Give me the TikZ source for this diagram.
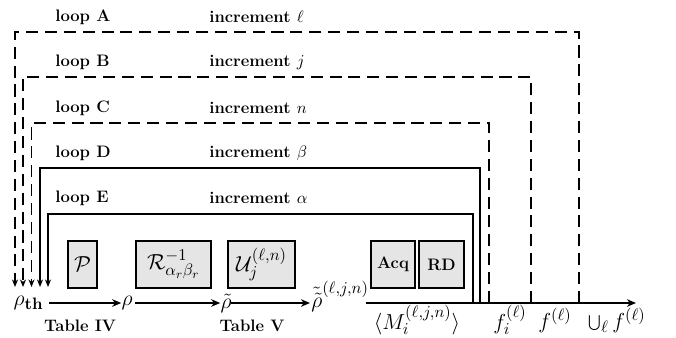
\documentclass[tikz,border=0pt]{standalone}
\usetikzlibrary{arrows.meta}
\begin{document}
\begin{tikzpicture}[x=0.662pt,y=-0.662pt,
  bf/.style={font=\fontsize{11}{13}\selectfont\bfseries},
  mf/.style={font=\fontsize{15.5}{18}\selectfont},
  lbl/.style={anchor=west,inner sep=0pt,bf},
  loopdash/.style={line width=1.2pt,dash pattern=on 8pt off 4.5pt,-{Stealth[length=5pt,width=4pt]}},
  loopsolid/.style={line width=1.2pt,-{Stealth[length=5pt,width=4pt]}},
  box/.style={draw,line width=1.2pt,fill=black!10,inner sep=0pt},
  axis/.style={line width=1pt,-{Stealth[length=6pt,width=5pt]}},
  mathlbl/.style={inner sep=0pt,mf},
  tbl/.style={inner sep=0pt,bf}]
\useasboundingbox (0,0) rectangle (676,338);
% labels
\node[lbl] (la) at (55,17) {loop A};
\node[lbl] (ia) at (209,17) {increment \mbox{\mdseries$\ell$}};
\node[lbl] (lb) at (55,62) {loop B};
\node[lbl] (ib) at (209,62) {increment \mbox{\mdseries$j$}};
\node[lbl] (lc) at (55,108) {loop C};
\node[lbl] (ic) at (209,108) {increment \mbox{\mdseries$n$}};
\node[lbl] (ld) at (55,153) {loop D};
\node[lbl] (id) at (209,153) {increment \mbox{\mdseries$\beta$}};
\node[lbl] (le) at (55,198) {loop E};
\node[lbl] (ie) at (209,198) {increment \mbox{\mdseries$\alpha$}};
% boxes
\node[box,minimum width=19.2pt,minimum height=31.1pt,mf] (P) at (82.5,264.5) {$\mathcal{P}$};
\node[box,minimum width=49.6pt,minimum height=31.1pt,mf] (R) at (173.5,264.5) {$\mathcal{R}^{-1}_{\alpha_r\beta_r}$};
\node[box,minimum width=44.4pt,minimum height=31.1pt,mf] (U) at (261.5,264.5) {$\mathcal{U}_j^{(\ell,n)}$};
\node[box,minimum width=29.1pt,minimum height=31.1pt,bf] (Acq) at (393,264.5) {Acq};
\node[box,minimum width=29.8pt,minimum height=31.1pt,bf] (RD) at (441.5,264.5) {RD};
% axis nodes
\node[mathlbl] (rth) at (28.5,303) {$\rho_{\mathbf{th}}$};
\node[mathlbl] (r1) at (127,303) {$\rho$};
\node[mathlbl] (r2) at (226,303) {$\tilde\rho$};
\node[mathlbl,anchor=base west] (r3) at (311,307) {$\tilde{\tilde\rho}^{(\ell,j,n)}$};
\coordinate (ax0) at (366,303);
\coordinate (ax1) at (636,303);
\coordinate (s1) at (49,303);
\coordinate (s2) at (135,303);
\coordinate (s3) at (231,303);
\coordinate (e3) at (310,303);
\draw[axis] (s1) -- (r1.west);
\draw[axis] (s2) -- (r2.west);
\draw[axis] (s3) -- (e3);
\draw[axis] (ax0) -- (ax1);
\node[tbl] (t4) at (80,326) {Table IV};
\node[tbl] (t5) at (252,326) {Table V};
\node[mathlbl] (M) at (417,320) {$\langle M_i^{(\ell,j,n)}\rangle$};
\node[mathlbl] (fi) at (510,320) {$f_i^{(\ell)}$};
\node[mathlbl] (f) at (555,320) {$f^{(\ell)}$};
\node[mathlbl] (uf) at (617,320) {$\bigcup_\ell f^{(\ell)}$};
% loop coordinates
\coordinate (Ab) at (579,303); \coordinate (At) at (15,287);
\coordinate (Bb) at (531,303); \coordinate (Bt) at (23,287);
\coordinate (Cb) at (489,303); \coordinate (Ct) at (31.5,287);
\coordinate (Db) at (480,303); \coordinate (Dt) at (40,287);
\coordinate (Eb) at (473,303); \coordinate (Et) at (48,287);
\draw[loopdash] (Ab) -- (579,32) -| (At);
\draw[loopdash] (Bb) -- (531,77) -| (Bt);
\draw[loopdash] (Cb) -- (489,123) -| (Ct);
\draw[loopsolid] (Db) -- (480,168) -| (Dt);
\draw[loopsolid] (Eb) -- (473,214) -| (Et);
\end{tikzpicture}
\end{document}
